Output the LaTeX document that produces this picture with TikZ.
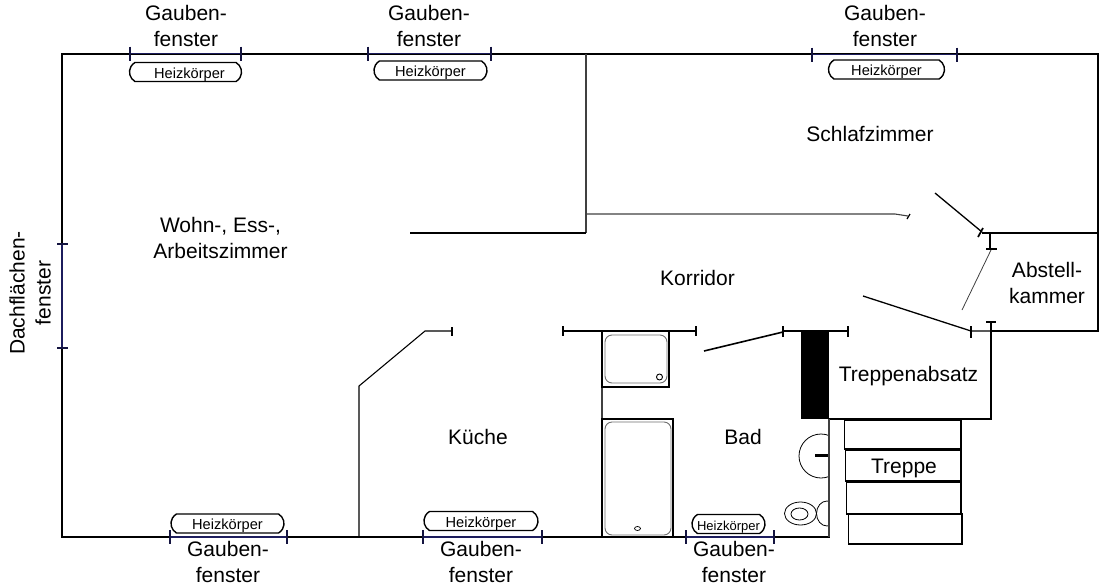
\documentclass[tikz,border=0pt]{standalone}
\usepackage{fontspec}
\setmainfont{Liberation Sans}
\usetikzlibrary{shapes.misc}
\definecolor{fensterblau}{RGB}{28,28,92}
\definecolor{grauwand}{RGB}{110,110,110}
\tikzset{
  wall/.style={draw=black,line width=1.1pt},
  thinwall/.style={draw=black!75,line width=1.1pt},
  tick/.style={draw=black,line width=1.7pt},
  window/.style={draw=fensterblau,line width=1.8pt},
  wtick/.style={draw=fensterblau!70!black,line width=1.4pt},
  label/.style={font=\fontsize{21}{26}\selectfont,align=center,inner sep=0pt},
  radiator/.style={draw=black,line width=1.4pt,rounded rectangle,rounded rectangle arc length=120,minimum height=19pt,inner sep=0pt,font=\fontsize{14.6}{16}\selectfont},
  fixture/.style={draw=grauwand,line width=.9pt},
  stepbox/.style={draw=black,line width=1.1pt}
}
\newcommand{\gaube}[3]{%
  \draw[window] (#1,#3)--(#2,#3);
  \draw[wtick] (#1,#3-7)--(#1,#3+7);
  \draw[wtick] (#2,#3-7)--(#2,#3+7);}
\newcommand{\heiz}{\raisebox{0pt}[12pt][0pt]{Heizkörper}}
\begin{document}
\begin{tikzpicture}[x=1pt,y=-1pt]
\useasboundingbox (0,0) rectangle (1120,587);
% outer walls
\draw[wall] (586,54)--(62,54)--(62,537)--(829,537)--(829,419);
\draw[wall] (586,54)--(1098,54)--(1098,331)--(991,331);
\draw[thinwall] (586,54)--(586,233);
\draw[wall] (410,233)--(586,233);
\draw[thinwall] (586,214)--(895,214)--(908,216);
\draw[tick,line width=1.2pt] (910,214)--(907,219);
% storage room and doors
\draw[wall,line width=1.3pt] (935,193)--(982,232);
\draw[tick] (983,228)--(978,237);
\draw[wall] (982,233)--(1098,233);
\draw[wall] (990,233)--(990,249);
\draw[tick] (986,249)--(997,249);
\draw[thinwall,line width=.8pt] (991,250)--(962,310);
\draw[wall,line width=1.3pt] (863,296)--(971,331)--(991,331);
\draw[tick] (971,326)--(971,338);
\draw[tick] (986,322)--(996,322);
\draw[wall] (991,322)--(991,419)--(829,419);
% corridor walls
\draw[wall] (783,331)--(848,331);
\draw[tick] (783,326)--(783,337);
\draw[tick] (848,326)--(848,337);
\draw[wall,line width=1.6pt] (704,351)--(783,332);
\draw[wall] (563,331)--(697,331);
\draw[tick] (563,326)--(563,336);
\draw[tick] (696,326)--(696,336);
\fill[black] (801,331) rectangle (829,419);
% kitchen
\draw[wall] (359,537)--(359,386)--(425,331)--(452,331);
\draw[tick] (452,327)--(452,336);
\draw[thinwall] (602,331)--(602,537);
% shower
\draw[wall] (602,331) rectangle (669,387);
\draw[fixture,rounded corners=7pt] (605,335) rectangle (667,383);
\draw[fixture,draw=black] (659.5,377) circle (3);
% bath
\draw[wall] (602,419) rectangle (673,537);
\draw[fixture,rounded corners=7pt] (605,422) rectangle (671,535);
\draw[draw=black,line width=.7pt] (637.5,528.5) ellipse (3 and 2);
% sink
\begin{scope}
\clip (780,425) rectangle (829,490);
\draw[draw=black,line width=.8pt] (821,456) circle (22);
\end{scope}
\draw[black,line width=2.8pt] (815,455.5)--(829,455.5);
% toilet
\draw[draw=black,line width=.8pt] (800.5,513.5) ellipse (16 and 11.5);
\draw[draw=black,line width=.8pt] (799.5,514) ellipse (8.5 and 6);
\begin{scope}
\clip (810,495) rectangle (829,530);
\draw[draw=black,line width=.8pt] (827,513.5) ellipse (10.5 and 12.5);
\end{scope}
\draw[thinwall] (829,419)--(829,537);
% stairs
\draw[stepbox] (844.5,420) rectangle (961,449);
\draw[stepbox] (845.5,450) rectangle (961,481);
\draw[stepbox] (846.5,482) rectangle (961,514);
\draw[stepbox] (848.5,514) rectangle (962,544);
% windows
\gaube{130}{241}{53.5}
\gaube{368}{491}{53.5}
\gaube{812}{957}{54.5}
\gaube{170}{287}{537}
\gaube{423}{542}{537}
\gaube{686}{774}{537}
\draw[window] (62,244)--(62,348);
\draw[wtick] (57,244)--(68,244);
\draw[wtick] (57,348)--(68,348);
% radiators
\node[radiator,minimum width=112pt] (r1) at (185.5,72) {\hspace{8pt}\heiz};
\node[radiator,minimum width=113pt] (r2) at (430.5,70.5) {\heiz};
\node[radiator,minimum width=116pt] (r3) at (886.5,69.5) {\heiz};
\node[radiator,minimum width=113pt] (r4) at (227.5,523.5) {\heiz};
\node[radiator,minimum width=114pt] (r5) at (481,521) {\heiz};
\node[radiator,minimum width=73pt,font=\fontsize{13}{14}\selectfont] (r6) at (728.5,524) {\heiz};
% labels
\node[label] (g1) at (186,26) {Gauben-\\fenster};
\node[label] (g2) at (429,26) {Gauben-\\fenster};
\node[label] (g3) at (885,26) {Gauben-\\fenster};
\node[label] (g4) at (228,562) {Gauben-\\fenster};
\node[label] (g5) at (481,562) {Gauben-\\fenster};
\node[label] (g6) at (734,562) {Gauben-\\fenster};
\node[label,rotate=90] (g7) at (30,293) {Dachflächen-\\fenster};
\node[label] (wohn) at (220.5,238) {Wohn-, Ess-,\\Arbeitszimmer};
\node[label] (schlaf) at (870,134) {Schlafzimmer};
\node[label] (korr) at (697.5,278) {Korridor};
\node[label] (abst) at (1047,283) {Abstell-\\kammer};
\node[label] (absatz) at (908.5,376.5) {Treppenabsatz};
\node[label] (kueche) at (478,437) {Küche};
\node[label] (bad) at (743,436.5) {Bad};
\node[label] (treppe) at (904,468.5) {Treppe};
\end{tikzpicture}
\end{document}
